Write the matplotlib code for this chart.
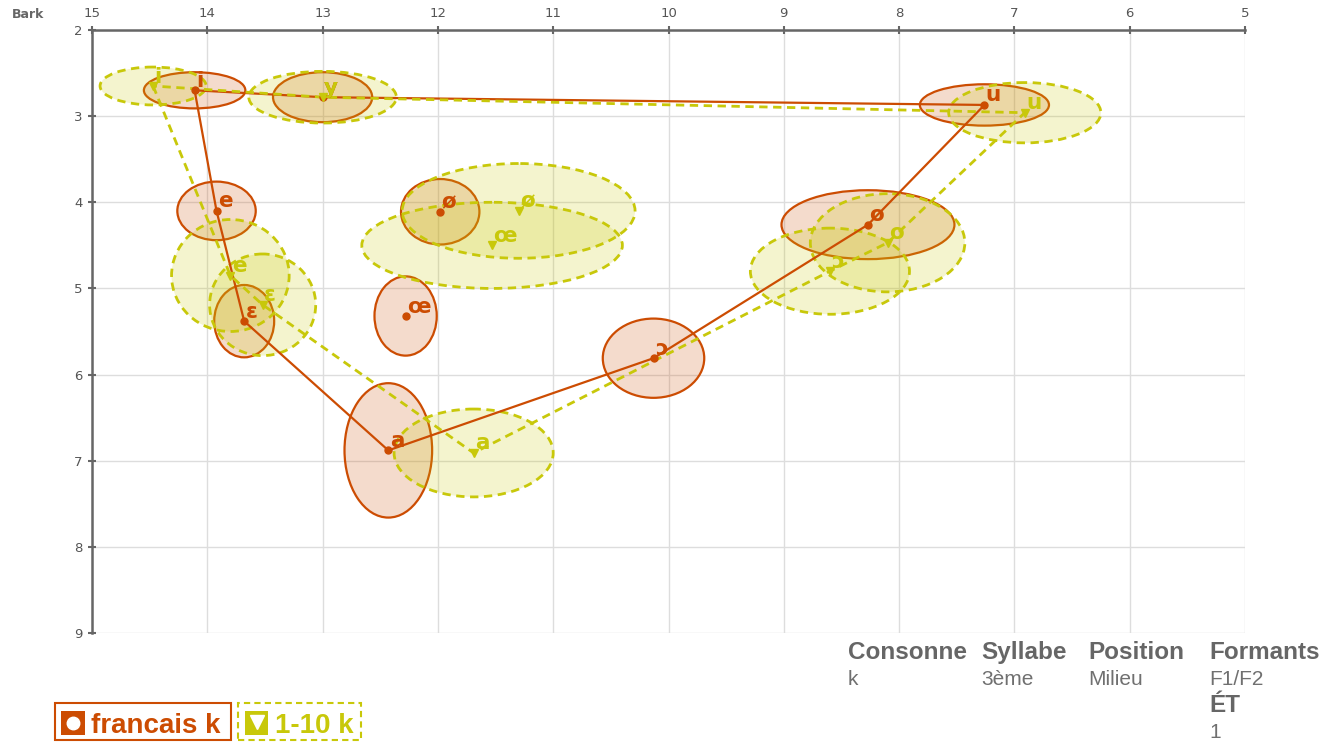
"""
Triangle vocalique F1/F2 (Bark) : francais k vs 1-10 k
"""
import matplotlib
matplotlib.use('Agg')
import matplotlib.pyplot as plt
from matplotlib.patches import Ellipse, Rectangle
from matplotlib.lines import Line2D

plt.rcParams['font.family'] = ['DejaVu Sans']

W, H = 1335, 742

# ---- Données ----
vowels = ['i', 'e', 'ɛ', 'a', 'ɔ', 'o', 'u', 'y', 'ø', 'œ']
contour = ['i', 'e', 'ɛ', 'a', 'ɔ', 'o', 'u', 'y', 'i']

# francais k
fr_f2 = [14.11, 13.92, 13.68, 12.43, 10.13, 8.27, 7.26, 13.00, 11.98, 12.28]
fr_f1 = [2.70, 4.10, 5.38, 6.88, 5.81, 4.26, 2.87, 2.78, 4.11, 5.32]
fr_sd_f2 = [0.44, 0.34, 0.26, 0.38, 0.44, 0.75, 0.56, 0.43, 0.34, 0.27]
fr_sd_f1 = [0.21, 0.34, 0.42, 0.78, 0.46, 0.40, 0.24, 0.29, 0.38, 0.46]

# 1-10 k
k_f2 = [14.47, 13.80, 13.52, 11.69, 8.60, 8.10, 6.91, 13.00, 11.30, 11.53]
k_f1 = [2.65, 4.85, 5.19, 6.91, 4.80, 4.47, 2.96, 2.78, 4.10, 4.50]
k_sd_f2 = [0.46, 0.51, 0.46, 0.69, 0.69, 0.67, 0.66, 0.64, 1.01, 1.13]
k_sd_f1 = [0.22, 0.65, 0.59, 0.51, 0.50, 0.57, 0.35, 0.30, 0.55, 0.50]

x_ticks = [15, 14, 13, 12, 11, 10, 9, 8, 7, 6, 5]
y_ticks = [2, 3, 4, 5, 6, 7, 8, 9]

table_heads = ['Consonne', 'Syllabe', 'Position', 'Formants']
table_vals = ['k', '3ème', 'Milieu', 'F1/F2']

ORANGE = '#cc4c02'
YELLOW = '#c8c80a'
GRAY = '#666666'


def px(x, y):
    """Coordonnées pixel -> fraction de figure"""
    return x / W, 1 - y / H


def draw_series(ax, f2, f1, sd2, sd1, color, dashed, marker, msize):
    ls = (0, (3, 2)) if dashed else '-'
    lw = 2.0 if dashed else 1.6
    for x, y, s2, s1 in zip(f2, f1, sd2, sd1):
        ax.add_patch(Ellipse((x, y), 2 * s2, 2 * s1,
                             facecolor=matplotlib.colors.to_rgba(color, 0.2),
                             edgecolor=color, linewidth=lw, linestyle=ls,
                             zorder=2))
    idx = [vowels.index(v) for v in contour]
    ax.plot([f2[i] for i in idx], [f1[i] for i in idx], color=color,
            linewidth=lw, linestyle=ls, zorder=3)
    ax.plot(f2, f1, linestyle='none', marker=marker, markersize=msize,
            color=color, zorder=4)
    for v, x, y in zip(vowels, f2, f1):
        ax.annotate(v, (x, y), xytext=(1, 2.5), textcoords='offset points',
                    ha='left', va='baseline', fontsize=15.5,
                    fontweight='bold', color=color, zorder=5)


fig = plt.figure(figsize=(W / 100, H / 100), dpi=100)
ax = fig.add_axes([92 / W, 1 - 633 / H, 1153 / W, 603 / H])

draw_series(ax, fr_f2, fr_f1, fr_sd_f2, fr_sd_f1, ORANGE, False, 'o', 5)
draw_series(ax, k_f2, k_f1, k_sd_f2, k_sd_f1, YELLOW, True, 'v', 6)

ax.set_xlim(15, 5)
ax.set_ylim(9, 2)
ax.set_xticks(x_ticks)
ax.set_yticks(y_ticks)
ax.xaxis.tick_top()
ax.grid(True, color='#dddddd', linewidth=1, zorder=0)
ax.set_axisbelow(True)
for side in ['right', 'bottom']:
    ax.spines[side].set_visible(False)
for side in ['top', 'left']:
    ax.spines[side].set_color(GRAY)
    ax.spines[side].set_linewidth(1.8)
ax.tick_params(direction='inout', length=6, width=1.5, color=GRAY,
               labelcolor='#555555', labelsize=9.5, pad=4)

fig.text(*px(28, 15), 'Bark', ha='center', va='center', fontsize=9,
         fontweight='bold', color=GRAY)

# ---- Tableau des paramètres ----
col_x = [848, 981, 1088, 1209]
for x, head, val in zip(col_x, table_heads, table_vals):
    fig.text(*px(x, 659), head, fontsize=17.5, fontweight='bold', color=GRAY,
             family='Liberation Sans', va='baseline')
    fig.text(*px(x, 685), val, fontsize=15, color='#707070',
             family='Liberation Sans', va='baseline')
fig.text(*px(1209, 712), 'ÉT', fontsize=17.5, fontweight='bold', color=GRAY,
         family='Liberation Sans', va='baseline')
fig.text(*px(1209, 738), '1', fontsize=15, color='#707070',
         family='Liberation Sans', va='baseline')

# ---- Légende ----
tf = fig.transFigure
fig.add_artist(Rectangle(px(55, 740), 176 / W, 37 / H, transform=tf,
                         facecolor='white', edgecolor=ORANGE, linewidth=1.5))
fig.add_artist(Rectangle(px(61, 735), 24 / W, 24 / H, transform=tf,
                         facecolor=ORANGE, edgecolor='none'))
fx, fy = px(73, 723)
fig.add_artist(Line2D([fx], [fy], transform=tf, marker='o', markersize=9,
                      color='white', linestyle='none'))
fig.text(*px(91, 733), 'francais k', fontsize=20, fontweight='bold',
         color=ORANGE, family='Liberation Sans', va='baseline')

fig.add_artist(Rectangle(px(238, 740), 123 / W, 37 / H, transform=tf,
                         facecolor='white', edgecolor=YELLOW, linewidth=1.5,
                         linestyle=(0, (3, 2))))
fig.add_artist(Rectangle(px(245, 735), 23 / W, 24 / H, transform=tf,
                         facecolor=YELLOW, edgecolor='none'))
fx, fy = px(256.5, 722)
fig.add_artist(Line2D([fx], [fy], transform=tf, marker='v', markersize=10,
                      color='white', linestyle='none'))
fig.text(*px(275, 733), '1-10 k', fontsize=20, fontweight='bold',
         color=YELLOW, family='Liberation Sans', va='baseline')

fig.savefig('out.png', dpi=100)
